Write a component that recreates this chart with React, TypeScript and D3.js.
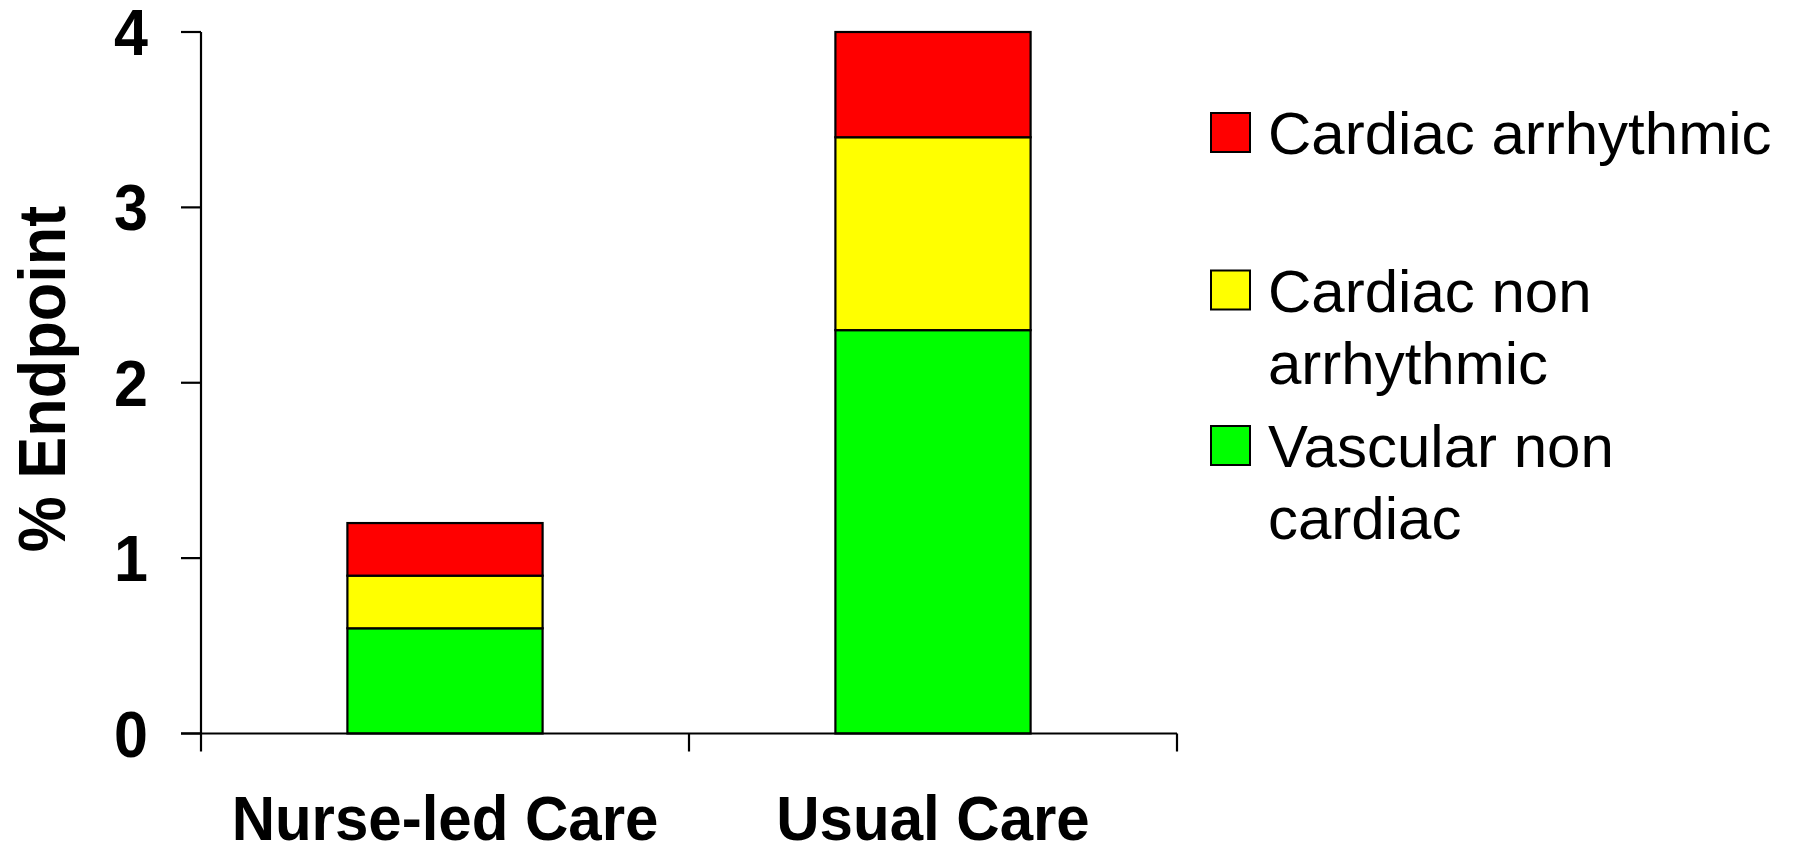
import React from "react";
import * as d3 from "d3";

const categories = ["Nurse-led Care", "Usual Care"];
const seriesKeys = ["vascular", "cardiacNon", "arrhythmic"];
const vascularNonCardiac = [0.6, 2.3];
const cardiacNonArrhythmic = [0.3, 1.1];
const cardiacArrhythmic = [0.3, 0.6];
const yTicks = [0, 1, 2, 3, 4];
const seriesColors = ["#00ff00", "#ffff00", "#ff0000"];
const legendItems = [
  { key: "arrhythmic", color: "#ff0000", lines: ["Cardiac arrhythmic"] },
  { key: "cardiacNon", color: "#ffff00", lines: ["Cardiac non", "arrhythmic"] },
  { key: "vascular", color: "#00ff00", lines: ["Vascular non", "cardiac"] },
];

const W = 1794;
const H = 845;
const FONT = "'Liberation Sans', Arial, Helvetica, sans-serif";

export default function App() {
  const rows = categories.map((c, i) => ({
    category: c,
    vascular: vascularNonCardiac[i],
    cardiacNon: cardiacNonArrhythmic[i],
    arrhythmic: cardiacArrhythmic[i],
  }));
  const stacked = d3.stack<any>().keys(seriesKeys)(rows);

  const x = d3
    .scaleBand<string>()
    .domain(categories)
    .range([201, 1177])
    .paddingInner(0)
    .paddingOuter(0);
  const barW = x.bandwidth() * 0.4;
  const y = d3.scaleLinear().domain([0, 4]).range([733.5, 32]);

  const axisX0 = 181;
  const axisLeft = 201;
  const boundaries = [x.range()[0], ...categories.slice(1).map((c) => x(c)!), x.range()[1]];

  const legendSwatchX = 1211;
  const legendTextX = 1268;
  const legendBaselines = [154, 311.5, 467];
  const lineGap = 72;

  return (
    <svg
      width={W}
      height={H}
      style={{ position: "absolute", left: 0, top: 0, background: "#fff" }}
      fontFamily={FONT}
    >
      <rect x={0} y={0} width={W} height={H} fill="#fff" />
      {/* bars */}
      {stacked.map((s, si) => (
        <g key={s.key}>
          {s.map((d, i) => {
            const cx = x(categories[i])! + x.bandwidth() / 2;
            return (
              <rect
                key={i}
                x={cx - barW / 2}
                y={y(d[1])}
                width={barW}
                height={y(d[0]) - y(d[1])}
                fill={seriesColors[si]}
                stroke="#000"
                strokeWidth={2.2}
              />
            );
          })}
        </g>
      ))}

      {/* y axis */}
      <line x1={axisLeft} x2={axisLeft} y1={y(4)} y2={y(0)} stroke="#000" strokeWidth={2.2} />
      {yTicks.map((t) => (
        <g key={t}>
          <line x1={axisX0} x2={axisLeft} y1={y(t)} y2={y(t)} stroke="#000" strokeWidth={2.2} />
          <text
            transform={`translate(148,${y(t) + 23}) scale(1,1.07)`}
            textAnchor="end"
            fontSize={61}
            fontWeight="bold"
            fill="#000"
          >
            {t}
          </text>
        </g>
      ))}

      {/* x axis */}
      <line x1={axisX0} x2={x.range()[1]} y1={y(0)} y2={y(0)} stroke="#000" strokeWidth={2.2} />
      {boundaries.map((b, i) => (
        <line key={i} x1={b} x2={b} y1={y(0)} y2={y(0) + 18} stroke="#000" strokeWidth={2.2} />
      ))}
      {categories.map((c) => (
        <text
          key={c}
          transform={`translate(${x(c)! + x.bandwidth() / 2},840) scale(1,1.06)`}
          textAnchor="middle"
          fontSize={60}
          fontWeight="bold"
          fill="#000"
        >
          {c}
        </text>
      ))}

      {/* y title */}
      <text
        transform="translate(65,379) rotate(-90) scale(1,1.07)"
        textAnchor="middle"
        fontSize={63}
        fontWeight="bold"
        fill="#000"
      >
        % Endpoint
      </text>

      {/* legend */}
      {legendItems.map((it, i) => (
        <g key={it.key}>
          <rect
            x={legendSwatchX}
            y={legendBaselines[i] - 41}
            width={39}
            height={39}
            fill={it.color}
            stroke="#000"
            strokeWidth={2}
          />
          {it.lines.map((ln, j) => (
            <text
              key={j}
              x={legendTextX}
              y={legendBaselines[i] + j * lineGap}
              fontSize={60}
              fill="#000"
            >
              {ln}
            </text>
          ))}
        </g>
      ))}
    </svg>
  );
}
